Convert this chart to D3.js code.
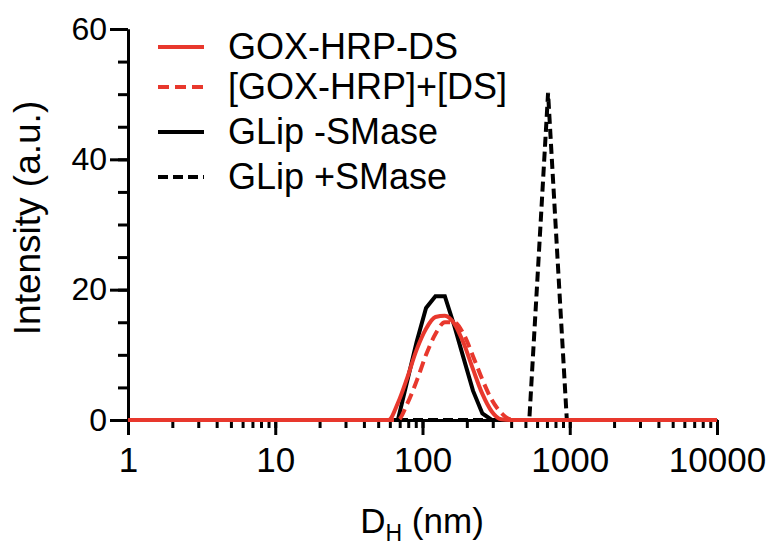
<!DOCTYPE html>
<html>
<head>
<meta charset="utf-8">
<script src="https://cdn.jsdelivr.net/npm/d3@7"></script>
<style>
	body { margin: 0; background: #fff; }
	svg text { font-family: "Liberation Sans", Arial, Helvetica, sans-serif; fill: #000; }
</style>
</head>
<body>
<svg id="chart" width="772" height="546"></svg>
<script>
/* global d3 */

'use strict';

//////////////////////////////////////////////////
// Data.
//////////////////////////////////////////////////

// Size bins, nm.
var sizes = [1, 50.75, 58.77, 68.06, 78.82, 91.28, 105.7, 122.4, 141.8, 164.2, 190.1, 220.2,
	255.0, 295.3, 342.0, 396.1, 458.7, 531.2, 615.1, 712.4, 825.0, 955.4, 1106, 10000];

// Intensity, a.u.
var goxHrpDs = [0, 0, 0, 2.6, 6.5, 10.8, 14.0, 15.8, 16.0, 14.8, 11.8, 7.8,
	4.0, 1.3, 0.1, 0, 0, 0, 0, 0, 0, 0, 0, 0];
var goxHrpPlusDs = [0, 0, 0, 0, 2.5, 6.0, 10.0, 13.2, 15.0, 15.0, 13.2, 9.8,
	6.2, 3.1, 1.1, 0.1, 0, 0, 0, 0, 0, 0, 0, 0];
var glipMinusSmase = [0, 0, 0, 0, 6.0, 12.0, 17.2, 19.0, 19.0, 14.5, 9.5, 4.5,
	1.0, 0, 0, 0, 0, 0, 0, 0, 0, 0, 0, 0];
var glipPlusSmase = [0, 0, 0, 0, 0, 0, 0, 0, 0, 0, 0, 0,
	0, 0, 0, 0, 0, 0, 25.0, 50.2, 25.0, 0, 0, 0];

var seriesNames = ['GOX-HRP-DS', '[GOX-HRP]+[DS]', 'GLip -SMase', 'GLip +SMase'];
var xMajorTicks = [1, 10, 100, 1000, 10000];
var yMajorTicks = [0, 20, 40, 60];

//////////////////////////////////////////////////
// Layout and styles.
//////////////////////////////////////////////////

var red = '#e8382d';
var margin = {left: 128, right: 55, top: 29, bottom: 126};
var width = 772 - margin.left - margin.right;
var height = 546 - margin.top - margin.bottom;

// Same order as the legend; drawn back to front below.
var styles = [
	{values: goxHrpDs, color: red, dash: null, curve: d3.curveMonotoneX},
	{values: goxHrpPlusDs, color: red, dash: '11,6', curve: d3.curveMonotoneX},
	{values: glipMinusSmase, color: '#000', dash: null, curve: d3.curveLinear},
	{values: glipPlusSmase, color: '#000', dash: '10,5', curve: d3.curveLinear}
];

var svg = d3.select('#chart');
var g = svg.append('g')
		.attr('transform', 'translate(' + margin.left + ',' + margin.top + ')');

var x = d3.scaleLog()
		.domain([1, 10000])
		.range([0, width]);

var y = d3.scaleLinear()
		.domain([0, 60])
		.range([height, 0]);

/**
 * Thickens lines of an axis group and sets the label font.
 *
 * @param {Object} sel The axis group.
 * @param {Number} fontSize Tick label size in px.
 * @returns {undefined}
 */
function styleAxis(sel, fontSize) {
	sel.selectAll('.domain, line')
			.attr('stroke', '#000')
			.attr('stroke-width', 3);
	sel.selectAll('text')
			.attr('font-size', fontSize)
			.attr('fill', '#000');
}

// Minor ticks first, majors with labels on top.
g.append('g')
		.attr('transform', 'translate(0,' + height + ')')
		.call(d3.axisBottom(x).tickValues(x.ticks()).tickSize(8).tickSizeOuter(0).tickFormat(''))
		.call(styleAxis, 35);

g.append('g')
		.attr('transform', 'translate(0,' + height + ')')
		.call(d3.axisBottom(x).tickValues(xMajorTicks).tickSize(15).tickSizeOuter(0)
				.tickPadding(12).tickFormat(d3.format('d')))
		.call(styleAxis, 35);

g.append('g')
		.call(d3.axisLeft(y).tickValues(y.ticks(12)).tickSize(10).tickSizeOuter(0).tickFormat(''))
		.call(styleAxis, 31);

g.append('g')
		.call(d3.axisLeft(y).tickValues(yMajorTicks).tickSize(18).tickSizeOuter(0).tickPadding(3))
		.call(styleAxis, 32);

// Curves, back to front so the red baseline ends up on top.
var drawOrder = [3, 2, 1, 0];
drawOrder.forEach(function(i) {
	var s = styles[i];
	var line = d3.line()
			.x(function(d, k) { return x(sizes[k]); })
			.y(function(d) { return y(d); })
			.curve(s.curve);
	g.append('path')
			.datum(s.values)
			.attr('d', line)
			.attr('fill', 'none')
			.attr('stroke', s.color)
			.attr('stroke-width', 4)
			.attr('stroke-dasharray', s.dash);
});

// Legend.
var legendRows = [47, 87, 132, 177];
var legend = svg.append('g');
var rows = legend.selectAll('g')
		.data(seriesNames)
		.enter().append('g')
		.attr('transform', function(d, i) { return 'translate(0,' + legendRows[i] + ')'; });

rows.append('line')
		.attr('x1', 158)
		.attr('x2', 204)
		.attr('stroke', function(d, i) { return styles[i].color; })
		.attr('stroke-width', 4)
		.attr('stroke-dasharray', function(d, i) { return styles[i].dash; });

rows.append('text')
		.attr('x', 228)
		.attr('y', 12)
		.attr('font-size', 36)
		.text(function(d) { return d; });

// Axis titles.
svg.append('text')
		.attr('transform', 'translate(40,218) rotate(-90)')
		.attr('text-anchor', 'middle')
		.attr('font-size', 37)
		.text('Intensity (a.u.)');

var xTitle = svg.append('text')
		.attr('x', 422)
		.attr('y', 533)
		.attr('text-anchor', 'middle')
		.attr('font-size', 35);
xTitle.append('tspan').text('D');
xTitle.append('tspan').attr('font-size', 23).attr('dy', 8).text('H');
xTitle.append('tspan').attr('dy', -8).text(' (nm)');
</script>
</body>
</html>
